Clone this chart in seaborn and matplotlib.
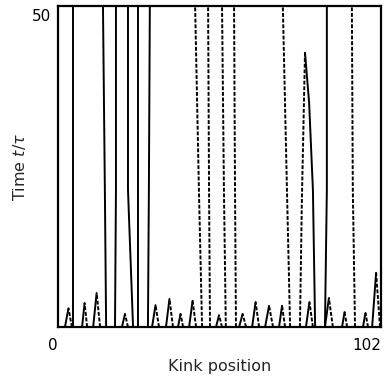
import numpy as np
import pandas as pd
import matplotlib
matplotlib.use("Agg")
import matplotlib.pyplot as plt
import seaborn as sns

# ========== DATA ==========
T_TOP = 51.5

# long worldlines: x at t = 0, 22, top
LONG_T = [0, 22, T_TOP]
kink_long = [
    [4.7, 4.7, 4.7],
    [15.2, 14.8, 14.2],
    [18.0, 18.3, 18.3],
    [23.7, 22.1, 22.1],
    [25.3, 25.3, 25.3],
    [28.4, 28.7, 29.0],
    [84.3, 84.9, 84.9],
]
antikink_long = [
    [45.5, 44.5, 43.3],
    [48.0, 47.7, 47.4],
    [53.0, 52.4, 51.8],
    [56.2, 55.9, 55.6],
    [73.3, 72.3, 71.0],
    [93.8, 93.1, 92.8],
]

# big pair annihilating at t ~ 44
big_anti_x = [76.4, 77.0, 78.0]
big_anti_t = [0, 20, 44]
big_kink_x = [81.2, 80.5, 79.3, 78.0]
big_kink_t = [0, 22, 36, 44]

# short-lived pairs: left foot, right foot, annihilation time
pair_left = [2.2, 7.6, 11.1, 20.2, 29.7, 34.1, 37.9, 41.4, 49.9, 57.2,
             61.3, 65.4, 69.8, 78.3, 84.3, 89.7, 96.3, 99.2]
pair_right = [4.4, 9.2, 13.3, 22.1, 31.9, 36.3, 39.5, 43.6, 51.8, 59.4,
              63.5, 67.9, 71.7, 80.5, 86.8, 91.3, 97.9, 101.7]
pair_time = [3.0, 3.85, 5.45, 2.1, 3.5, 4.5, 2.1, 4.2, 1.9, 2.1,
             4.0, 3.4, 3.4, 4.0, 4.65, 2.4, 2.25, 8.7]

# ========== BUILD TABLE ==========
rows = []
uid = 0
for xs in kink_long:
    for x, t in zip(xs, LONG_T):
        rows.append((uid, x, t, "kink"))
    uid += 1
for xs in antikink_long:
    for x, t in zip(xs, LONG_T):
        rows.append((uid, x, t, "antikink"))
    uid += 1
for x, t in zip(big_anti_x, big_anti_t):
    rows.append((uid, x, t, "antikink"))
uid += 1
for x, t in zip(big_kink_x, big_kink_t):
    rows.append((uid, x, t, "kink"))
uid += 1
for xl, xr, tt in zip(pair_left, pair_right, pair_time):
    xc = (xl + xr) / 2
    rows += [(uid, xl, 0, "kink"), (uid, xc, tt, "kink")]
    uid += 1
    rows += [(uid, xr, 0, "antikink"), (uid, xc, tt, "antikink")]
    uid += 1
df = pd.DataFrame(rows, columns=["line", "x", "t", "kind"])

# ========== PLOT ==========
sns.set_style("white")
plt.rcParams["font.family"] = ["DejaVu Sans"]

fig = plt.figure(figsize=(3.84, 3.76), dpi=100)
ax = fig.add_axes([58 / 384, 49 / 376, 323 / 384, 321 / 376])

sns.lineplot(data=df, x="x", y="t", units="line", estimator=None,
             style="kind", style_order=["kink", "antikink"],
             dashes={"kink": "", "antikink": (2.0, 0.9)},
             sort=False, color="black", lw=1.4, legend=False, ax=ax)

ax.set_xlim(0, 102)
ax.set_ylim(0, T_TOP)
ax.set_xticks([0, 102])
ax.set_xticklabels(["0", "102"], ha="right")
ax.set_yticks([50])
ax.set_yticklabels(["50"])
ax.tick_params(length=0, labelsize=11, colors="black")
ax.tick_params(axis="x", pad=8)
ax.tick_params(axis="y", pad=5)
ax.set_xlabel("Kink position", fontsize=11.5, labelpad=4)
ax.set_ylabel("Time $t/\\tau$", fontsize=11.5, labelpad=3)
for s in ax.spines.values():
    s.set_color("black")
    s.set_linewidth(1.6)

fig.savefig("out.png", dpi=100)
